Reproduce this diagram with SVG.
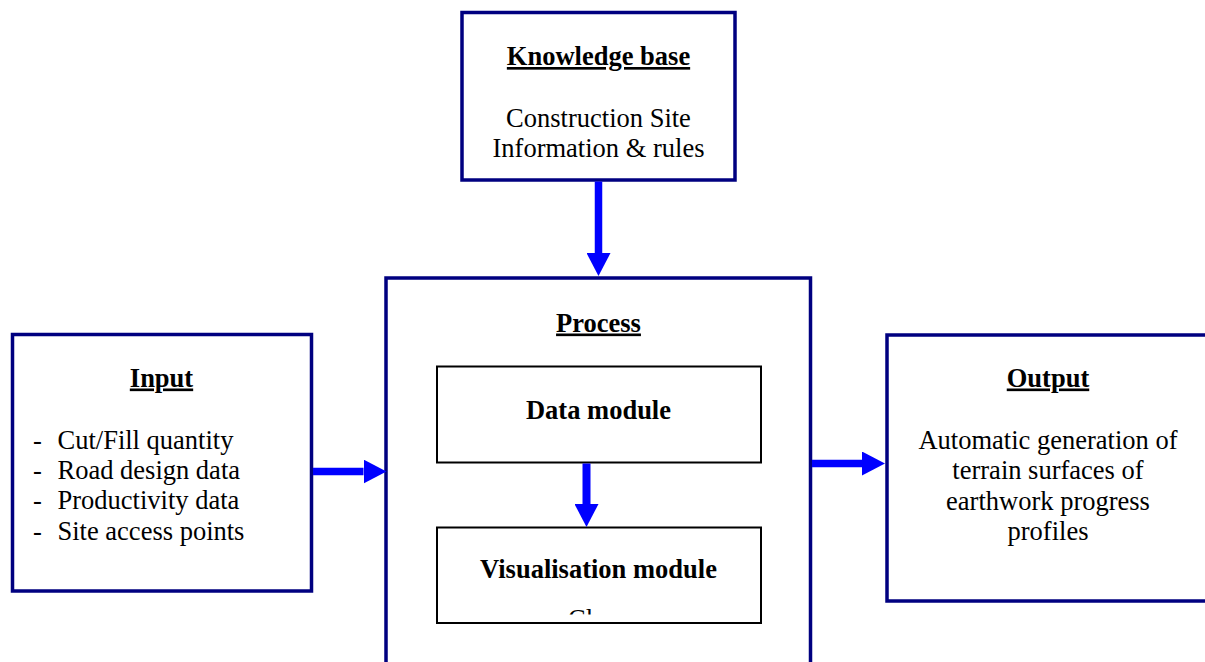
<svg xmlns="http://www.w3.org/2000/svg" width="1205" height="662" viewBox="0 0 1205 662">
<style>
.box{fill:#fff;stroke:#000080;stroke-width:3.5}
.mod{fill:#fff;stroke:#000;stroke-width:2}
.t{font-family:"Liberation Serif","Times New Roman",serif;font-size:26.5px;fill:#000}
.c{text-anchor:middle}
.b{font-weight:bold;text-decoration:underline}
.bb{font-weight:bold}
.arr{stroke:#0000ff;stroke-width:7.5;fill:none}
</style>
<defs>
<marker id="head" markerUnits="userSpaceOnUse" markerWidth="23" markerHeight="24" refX="0" refY="12" orient="auto" viewBox="0 0 23 24">
<path d="M0,0 L23,12 L0,24 z" fill="#0000ff"/>
</marker>
<clipPath id="clipVis"><rect x="437" y="600" width="324" height="14.5"/></clipPath>
</defs>
<g id="knowledge-base">
<rect class="box" x="462" y="12.5" width="273" height="167.5"/>
<text class="t c b" x="598.5" y="65">Knowledge base</text>
<text class="t c" x="598.5" y="126.5">Construction Site</text>
<text class="t c" x="598.5" y="156.5">Information &amp; rules</text>
</g>
<g id="process">
<rect class="box" x="386" y="278" width="424.5" height="420"/>
<text class="t c b" x="598.5" y="331.5">Process</text>
</g>
<g id="data-module">
<rect class="mod" x="437" y="366.5" width="324" height="96"/>
<text class="t c bb" x="598.5" y="418.5">Data module</text>
</g>
<g id="visualisation-module">
<rect class="mod" x="437" y="527.5" width="324" height="95.5"/>
<text class="t c bb" x="598.5" y="578">Visualisation module</text>
<text class="t" x="568" y="628" clip-path="url(#clipVis)">Cl</text>
</g>
<g id="input">
<rect class="box" x="12.5" y="334.5" width="299" height="256.5"/>
<text class="t c b" x="161.5" y="386.5">Input</text>
<text class="t" x="33" y="448.5">-</text><text class="t" x="57.5" y="448.5">Cut/Fill quantity</text>
<text class="t" x="33" y="478.5">-</text><text class="t" x="57.5" y="478.5">Road design data</text>
<text class="t" x="33" y="509">-</text><text class="t" x="57.5" y="509">Productivity data</text>
<text class="t" x="33" y="539.5">-</text><text class="t" x="57.5" y="539.5">Site access points</text>
</g>
<g id="output">
<rect class="box" x="887" y="335" width="400" height="266"/>
<text class="t c b" x="1048" y="386.5">Output</text>
<text class="t c" x="1048" y="448.5">Automatic generation of</text>
<text class="t c" x="1048" y="479">terrain surfaces of</text>
<text class="t c" x="1048" y="509.5">earthwork progress</text>
<text class="t c" x="1048" y="540">profiles</text>
</g>
<g id="connectors">
<line class="arr" x1="598.5" y1="181.5" x2="598.5" y2="253" marker-end="url(#head)"/>
<line class="arr" x1="313" y1="471.5" x2="363.5" y2="471.5" marker-end="url(#head)"/>
<line class="arr" x1="812" y1="463.5" x2="862" y2="463.5" marker-end="url(#head)"/>
<line class="arr" style="stroke-width:8" x1="586.5" y1="463.5" x2="586.5" y2="504" marker-end="url(#head)"/>
</g>
</svg>
